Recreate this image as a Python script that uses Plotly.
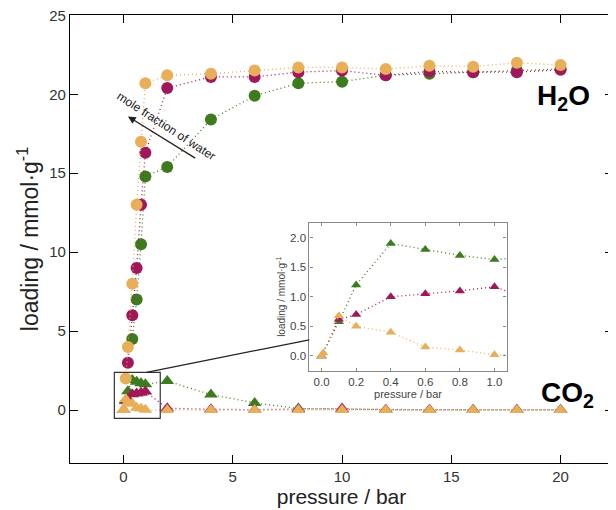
import plotly.graph_objects as go

# H2O loading (circles)
h2o_green_p = [0.4, 0.6, 0.8, 1.0, 2, 4, 6, 8, 10, 12, 14, 16, 18, 20]
h2o_green_y = [4.5, 7.0, 10.5, 14.8, 15.4, 18.4, 19.9, 20.7, 20.8, 21.2, 21.3, 21.4, 21.5, 21.6]
h2o_mag_p = [0.2, 0.4, 0.6, 0.8, 1.0, 2, 4, 6, 8, 10, 12, 14, 16, 18, 20]
h2o_mag_y = [3.0, 6.0, 9.0, 13.0, 16.3, 20.4, 21.1, 21.1, 21.4, 21.5, 21.2, 21.45, 21.4, 21.4, 21.55]
h2o_or_p = [0.1, 0.2, 0.4, 0.6, 0.8, 1.0, 2, 4, 6, 8, 10, 12, 14, 16, 18, 20]
h2o_or_y = [2.0, 4.0, 8.0, 13.0, 17.0, 20.7, 21.2, 21.3, 21.5, 21.7, 21.7, 21.6, 21.8, 21.75, 22.0, 21.85]

# CO2 loading (triangles)
co2_p = [0.0, 0.1, 0.2, 0.4, 0.6, 0.8, 1.0, 2, 4, 6, 8, 10, 12, 14, 16, 18, 20]
co2_green_y = [0.0, 0.58, 1.2, 1.9, 1.8, 1.7, 1.63, 1.84, 0.98, 0.45, 0.1, 0.05, 0.03, 0.02, 0.02, 0.02, 0.02]
co2_mag_y = [0.0, 0.62, 0.7, 1.0, 1.05, 1.1, 1.17, 0.12, 0.05, 0.03, 0.05, 0.1, 0.02, 0.02, 0.02, 0.02, 0.02]
co2_or_p = [0.0, 0.01, 0.1, 0.2, 0.4, 0.6, 0.8, 1.0, 2, 4, 6, 8, 10, 12, 14, 16, 18, 20]
co2_or_y = [0.0, 0.05, 0.68, 0.5, 0.4, 0.15, 0.1, 0.02, 0.0, 0.0, 0.0, 0.0, 0.0, 0.0, 0.0, 0.0, 0.0, 0.0]

x_ticks = [0, 5, 10, 15, 20]
y_ticks = [0, 5, 10, 15, 20, 25]
inset_x_ticks = [0.0, 0.2, 0.4, 0.6, 0.8, 1.0]
inset_y_ticks = [0.0, 0.5, 1.0, 1.5, 2.0]

GREEN = "#3E7B1E"
MAG = "#A0185A"
ORANGE = "#E8AE58"
FONT = "Arial, Liberation Sans, sans-serif"

fig = go.Figure()

def add(x, y, color, symbol, size, xa="x", ya="y"):
    fig.add_trace(go.Scatter(
        x=x, y=y, mode="lines+markers", xaxis=xa, yaxis=ya,
        line=dict(color=color, width=1.3, dash="1px,3px"),
        marker=dict(color=color, symbol=symbol, size=size, line=dict(width=0)),
        showlegend=False, cliponaxis=True))

# main: CO2 triangles then H2O circles
add(co2_p, co2_green_y, GREEN, "triangle-up", 12)
add(co2_p, co2_mag_y, MAG, "triangle-up", 12)
add(co2_or_p, co2_or_y, ORANGE, "triangle-up", 12)
add(h2o_green_p, h2o_green_y, GREEN, "circle", 12)
add(h2o_mag_p, h2o_mag_y, MAG, "circle", 12)
add(h2o_or_p, h2o_or_y, ORANGE, "circle", 12)
# inset
add(co2_p, co2_green_y, GREEN, "triangle-up", 9, "x2", "y2")
add(co2_p, co2_mag_y, MAG, "triangle-up", 9, "x2", "y2")
add(co2_or_p, co2_or_y, ORANGE, "triangle-up", 9, "x2", "y2")

axis_common = dict(showgrid=False, zeroline=False, showline=True, mirror="ticks",
                   ticks="inside", linewidth=1.2, automargin=False,
                   ticklabeloverflow="allow")

# page body has an 8px margin, so the figure is sized to fit the 616x510 window
fig.update_layout(
    width=608, height=502,
    margin=dict(l=62, r=3, t=7, b=47),
    paper_bgcolor="white", plot_bgcolor="white",
    font=dict(family=FONT, color="#222"),
    xaxis=dict(**axis_common, linecolor="black", tickcolor="black", ticklen=8,
               range=[-2.45, 22.4], tickvals=x_ticks,
               tickfont=dict(size=15, color="#333"),
               title=dict(text="pressure / bar", font=dict(size=21, color="#222"), standoff=3)),
    yaxis=dict(**axis_common, linecolor="black", tickcolor="black", ticklen=8,
               range=[-3.35, 25.02], tickvals=y_ticks,
               tickfont=dict(size=15, color="#333"),
               title=dict(text="loading / mmol·g<sup>-1</sup>", font=dict(size=23, color="#222"), standoff=4)),
    xaxis2=dict(**axis_common, linecolor="#888", tickcolor="#888", ticklen=3,
                domain=[0.441, 0.804], anchor="y2", range=[-0.07, 1.07],
                tickvals=inset_x_ticks, ticktext=[f"{v:.1f}" for v in inset_x_ticks],
                tickfont=dict(size=11.5, color="#444"),
                title=dict(text="pressure / bar", font=dict(size=11, color="#444"), standoff=3)),
    yaxis2=dict(**axis_common, linecolor="#888", tickcolor="#888", ticklen=3,
                domain=[0.206, 0.536], anchor="x2", range=[-0.25, 2.25],
                tickvals=inset_y_ticks, ticktext=[f"{v:.1f}" for v in inset_y_ticks],
                tickfont=dict(size=11.5, color="#444"),
                title=dict(text="loading / mmol·g<sup>-1</sup>", font=dict(size=10, color="#444"), standoff=2)),
    shapes=[
        dict(type="rect", xref="paper", yref="paper", x0=0.441, x1=0.804, y0=0.206, y1=0.536,
             fillcolor="white", line=dict(width=0), layer="below"),
        dict(type="rect", xref="x", yref="y", x0=-0.42, x1=1.68, y0=-0.53, y1=2.39,
             line=dict(color="#333", width=1.2)),
        dict(type="line", xref="x", yref="y", x0=1.05, y0=2.39, x1=8.5, y1=4.45,
             line=dict(color="#222", width=1.2)),
    ],
    annotations=[
        dict(text="<b>H<sub>2</sub>O</b>", x=20.15, y=19.8, xref="x", yref="y", showarrow=False,
             font=dict(size=28, color="black", family=FONT), xanchor="center", yanchor="middle"),
        dict(text="<b>CO<sub>2</sub></b>", x=20.3, y=1.0, xref="x", yref="y", showarrow=False,
             font=dict(size=28, color="black", family=FONT), xanchor="center", yanchor="middle"),
        dict(text="", x=0.2, y=18.6, ax=3.35, ay=15.9, xref="x", yref="y", axref="x", ayref="y",
             showarrow=True, arrowhead=2, arrowsize=1.2, arrowwidth=1.3, arrowcolor="#222"),
        dict(text="mole fraction of water", x=1.95, y=18.0, xref="x", yref="y", showarrow=False,
             textangle=33, font=dict(size=12, color="#222", family=FONT)),
    ],
)

fig.write_html("out.html")
